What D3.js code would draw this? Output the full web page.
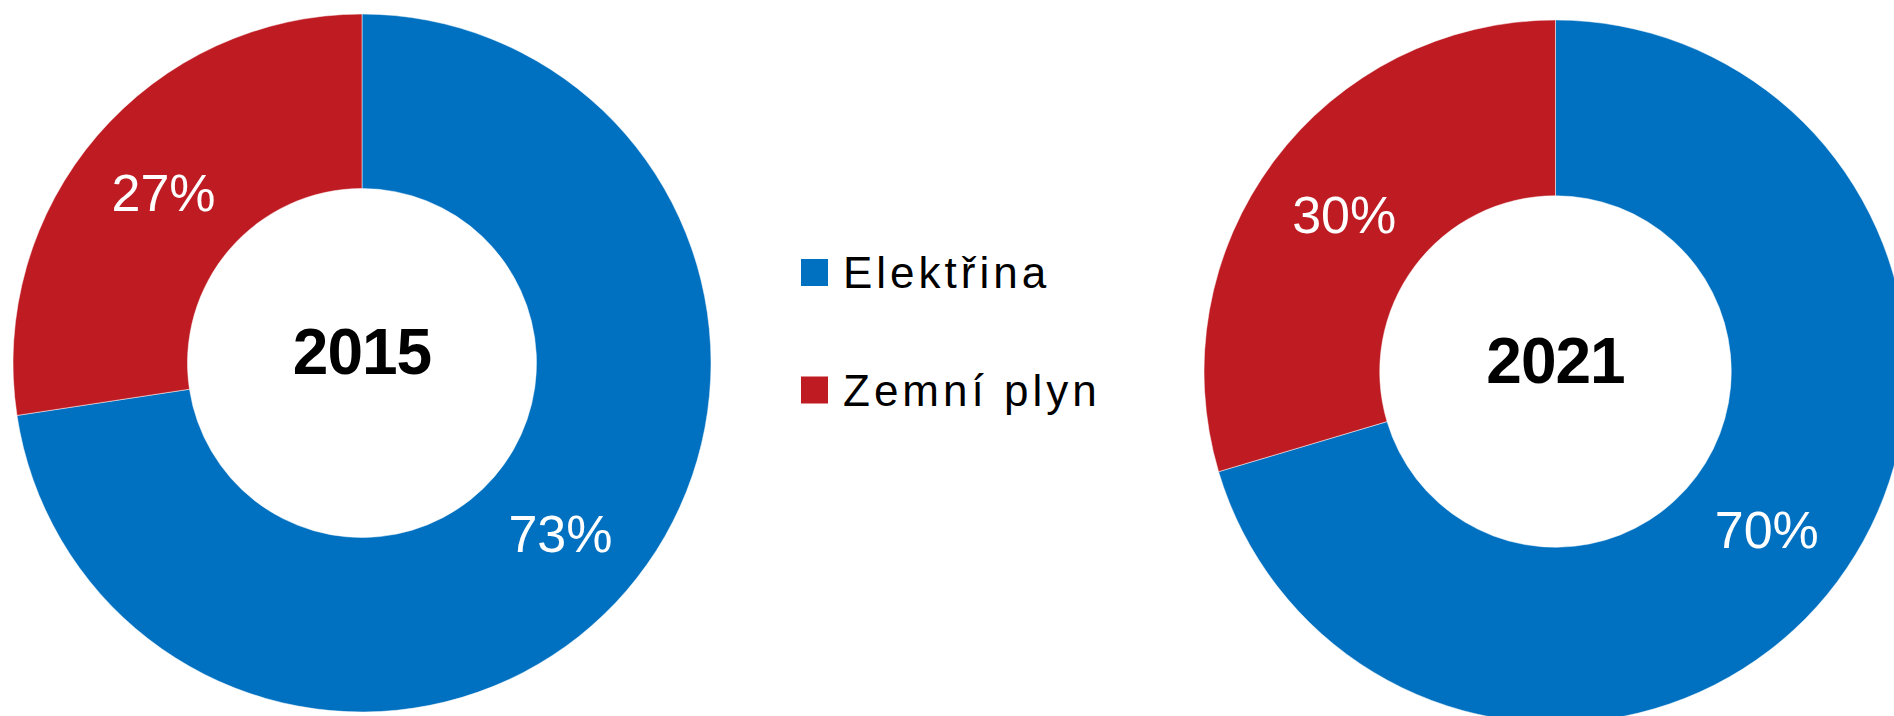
<!DOCTYPE html>
<html>
<head>
<meta charset="utf-8">
<script src="https://cdn.jsdelivr.net/npm/d3@7"></script>
<style>
  body { margin: 0; background: #fff; }
  svg { display: block; font-family: "Liberation Sans", Arial, sans-serif; }
</style>
</head>
<body>
<script>
// data
const categories = ['Elektřina', 'Zemní plyn'];
const years = ['2015', '2021'];
const shares2015 = [72.6, 27.4];
const shares2021 = [70.4, 29.6];
const shareLabels2015 = ['73%', '27%'];
const shareLabels2021 = ['70%', '30%'];

const w = 1894;
const h = 716;

const svg = d3.select('body')
  .append('svg')
  .attr('width', w)
  .attr('height', h);

const colors = d3.scaleOrdinal()
  .domain(categories)
  .range(['#0070C0', '#BE1B22']);

// donut centres along x
const xScale = d3.scalePoint()
  .domain(years)
  .range([362, 1555.5]);

const radius = d3.scaleOrdinal()
  .domain(years)
  .range([349, 351.5]);

const cyScale = d3.scaleOrdinal()
  .domain(years)
  .range([363, 371.5]);

const pie = d3.pie()
  .sort(null)
  .value(function(d){ return d.value; });

const donuts = [
  {year: '2015', values: shares2015, labels: shareLabels2015},
  {year: '2021', values: shares2021, labels: shareLabels2021}
];

donuts.forEach(function(dn){
  const R = radius(dn.year);
  const arc = d3.arc().innerRadius(R * 0.5).outerRadius(R);
  const rows = categories.map(function(c, i){
    return {cat: c, value: dn.values[i], label: dn.labels[i]};
  });

  const g = svg.append('g')
    .attr('transform', 'translate(' + xScale(dn.year) + ',' + cyScale(dn.year) + ')');

  g.selectAll('path')
    .data(pie(rows))
    .enter().append('path')
    .attr('d', arc)
    .attr('fill', function(d){ return colors(d.data.cat); })
    .attr('stroke', '#fff')
    .attr('stroke-width', 0.5);

  // percentage labels at slice centroids
  g.selectAll('.pct')
    .data(pie(rows))
    .enter().append('text')
    .attr('class', 'pct')
    .attr('x', function(d){ return arc.centroid(d)[0]; })
    .attr('y', function(d){ return arc.centroid(d)[1]; })
    .attr('dy', '0.36em')
    .attr('text-anchor', 'middle')
    .attr('fill', '#fff')
    .attr('font-size', 52)
    .text(function(d){ return d.data.label; });

  g.append('text')
    .attr('y', 11)
    .attr('text-anchor', 'middle')
    .attr('font-size', 64)
    .attr('font-weight', 'bold')
    .attr('letter-spacing', -1)
    .attr('fill', '#000')
    .text(dn.year);
});

// legend
const legendY = d3.scalePoint()
  .domain(categories)
  .range([272.5, 390]);

const legend = svg.selectAll('.legend')
  .data(categories)
  .enter().append('g')
  .attr('class', 'legend')
  .attr('transform', function(d){ return 'translate(801,' + legendY(d) + ')'; });

legend.append('rect')
  .attr('x', 0)
  .attr('y', -13.5)
  .attr('width', 27)
  .attr('height', 27)
  .attr('fill', function(d){ return colors(d); });

legend.append('text')
  .attr('x', 42)
  .attr('y', 0)
  .attr('dy', '0.36em')
  .attr('font-size', 44)
  .attr('letter-spacing', 4)
  .attr('fill', '#000')
  .text(function(d){ return d; });
</script>
</body>
</html>
